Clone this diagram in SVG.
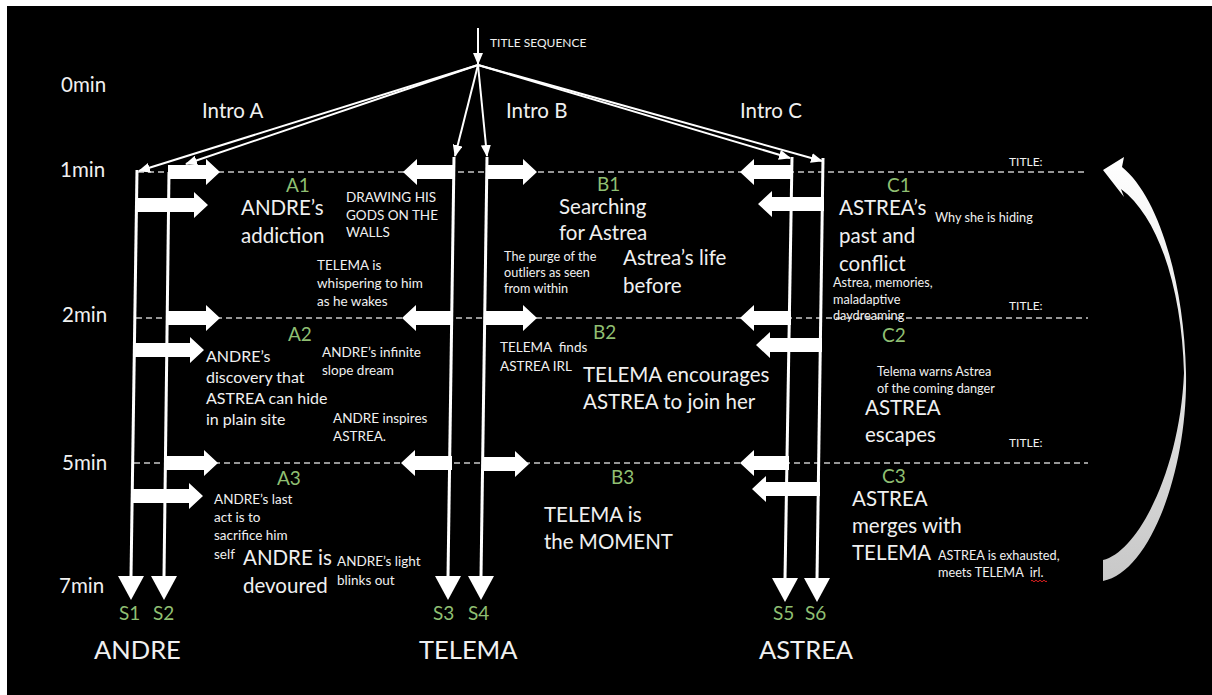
<svg xmlns="http://www.w3.org/2000/svg" width="1212" height="695" viewBox="0 0 1212 695">
<defs>
<style>
text{font-family:Lato,"Liberation Sans","DejaVu Sans",sans-serif;fill:#f0f0f0}
.t{font-size:20.5px}
.big{font-size:20.5px}
.mid{font-size:16px}
.sm{font-size:13.5px}
.xs{font-size:12.7px}
.lbl{font-size:12px}
.g{fill:#8fbf72;font-size:19px}
.nm{font-size:25.5px}
.lane{stroke:#fff;stroke-width:3;fill:none}
.blk{fill:#fff}
.grid{stroke:#c8c8c8;stroke-width:1.3;stroke-dasharray:6 4;fill:none}
.fan{stroke:#fff;stroke-width:2;fill:none;marker-end:url(#tip)}
.pre{white-space:pre}
</style>
<marker id="tip" markerUnits="userSpaceOnUse" viewBox="0 0 12 10" refX="11" refY="5" markerWidth="12" markerHeight="10" orient="auto">
<path d="M0,0 L12,5 L0,10 Z" fill="#fff"/>
</marker>
<linearGradient id="loopFill" x1="0" y1="0" x2="0" y2="1">
<stop offset="0" stop-color="#ffffff"/>
<stop offset="1" stop-color="#c8c8c8"/>
</linearGradient>
</defs>

<!-- slide frame -->
<rect x="0" y="0" width="1212" height="695" fill="#ffffff"/>
<rect x="7" y="6" width="1205" height="689" fill="#000000"/>

<!-- time axis -->
<g id="time-axis">
<text class="t" x="61" y="92">0min</text>
<text class="t" x="60" y="177">1min</text>
<text class="t" x="62" y="322">2min</text>
<text class="t" x="62" y="470">5min</text>
<text class="t" x="59" y="593">7min</text>
<line class="grid" x1="138" y1="172" x2="1088" y2="172"/>
<line class="grid" x1="136" y1="318" x2="1088" y2="318"/>
<line class="grid" x1="134" y1="463" x2="1088" y2="463"/>
<text class="lbl" x="1009" y="166">TITLE:</text>
<text class="lbl" x="1009" y="310">TITLE:</text>
<text class="lbl" x="1009" y="447">TITLE:</text>
</g>

<!-- title sequence and the intro fan-out -->
<g id="title-sequence">
<text class="lbl" x="490" y="47">TITLE SEQUENCE</text>
<text class="t" x="202" y="118">Intro A</text>
<text class="t" x="506" y="118">Intro B</text>
<text class="t" x="740" y="118">Intro C</text>
</g>

<g id="connectors">
<line class="fan" x1="478" y1="28" x2="478" y2="64"/>
<line class="fan" x1="478" y1="65" x2="139" y2="171"/>
<line class="fan" x1="478" y1="65" x2="186" y2="164"/>
<line class="fan" x1="478" y1="65" x2="455" y2="156"/>
<line class="fan" x1="478" y1="65" x2="487" y2="156"/>
<line class="fan" x1="478" y1="65" x2="790" y2="158"/>
<line class="fan" x1="478" y1="65" x2="822" y2="161"/>
</g>

<!-- ANDRE storylines S1 / S2 -->
<g id="andre">
<line class="lane" x1="137" y1="170" x2="131" y2="577"/>
<polygon class="blk" points="118,576 144,576 131,600"/>
<line class="lane" x1="169" y1="172" x2="164" y2="577"/>
<polygon class="blk" points="151,576 177,576 164,600"/>
<polygon class="blk" points="168,165 206,165 206,159 220,172 206,185 206,179 168,179"/>
<polygon class="blk" points="136,198 194,198 194,192 208,205 194,218 194,212 136,212"/>
<polygon class="blk" points="167,311 206,311 206,305 220,318 206,331 206,325 167,325"/>
<polygon class="blk" points="134,343 190,343 190,337 204,350 190,363 190,357 134,357"/>
<polygon class="blk" points="166,456 204,456 204,450 218,463 204,476 204,470 166,470"/>
<polygon class="blk" points="132,489 189,489 189,483 203,496 189,509 189,503 132,503"/>
<text class="g" x="119" y="620">S1</text>
<text class="g" x="153" y="620">S2</text>
<text class="nm" x="94" y="659">ANDRE</text>
</g>

<!-- TELEMA storylines S3 / S4 -->
<g id="telema">
<line class="lane" x1="454" y1="157" x2="448" y2="577"/>
<polygon class="blk" points="435,576 461,576 448,600"/>
<line class="lane" x1="487" y1="157" x2="481" y2="577"/>
<polygon class="blk" points="468,576 494,576 481,600"/>
<polygon class="blk" points="455,165 417,165 417,159 403,172 417,185 417,179 455,179"/>
<polygon class="blk" points="486,165 523,165 523,159 537,172 523,185 523,179 486,179"/>
<polygon class="blk" points="453,311 416,311 416,305 402,318 416,331 416,325 453,325"/>
<polygon class="blk" points="484,311 523,311 523,305 537,318 523,331 523,325 484,325"/>
<polygon class="blk" points="452,456 415,456 415,450 401,463 415,476 415,470 452,470"/>
<polygon class="blk" points="482,457 515,457 515,451 529,464 515,477 515,471 482,471"/>
<text class="g" x="433" y="620">S3</text>
<text class="g" x="468" y="620">S4</text>
<text class="nm" x="419" y="659">TELEMA</text>
</g>

<!-- ASTREA storylines S5 / S6 -->
<g id="astrea">
<line class="lane" x1="792" y1="157" x2="785" y2="579"/>
<polygon class="blk" points="772,578 798,578 785,602"/>
<line class="lane" x1="823" y1="158" x2="817" y2="579"/>
<polygon class="blk" points="804,578 830,578 817,602"/>
<polygon class="blk" points="793,165 754,165 754,159 740,172 754,185 754,179 793,179"/>
<polygon class="blk" points="824,197 772,197 772,191 758,204 772,217 772,211 824,211"/>
<polygon class="blk" points="791,311 754,311 754,305 740,318 754,331 754,325 791,325"/>
<polygon class="blk" points="822,338 770,338 770,332 756,345 770,358 770,352 822,352"/>
<polygon class="blk" points="789,456 754,456 754,450 740,463 754,476 754,470 789,470"/>
<polygon class="blk" points="820,482 766,482 766,476 752,489 766,502 766,496 820,496"/>
<text class="g" x="773" y="620">S5</text>
<text class="g" x="805" y="620">S6</text>
<text class="nm" x="759" y="659">ASTREA</text>
</g>

<!-- scenes -->
<g id="scene-a1">
<text class="g" x="286" y="192">A1</text>
<text class="big"><tspan x="241" y="215">ANDRE’s</tspan><tspan x="241" y="243">addiction</tspan></text>
<text class="sm"><tspan x="346" y="202">DRAWING HIS</tspan><tspan x="346" y="220">GODS ON THE</tspan><tspan x="346" y="237">WALLS</tspan></text>
<text class="sm"><tspan x="317" y="270">TELEMA is</tspan><tspan x="317" y="288">whispering to him</tspan><tspan x="317" y="306">as he wakes</tspan></text>
</g>

<g id="scene-a2">
<text class="g" x="288" y="341">A2</text>
<text class="mid"><tspan x="206" y="362">ANDRE’s</tspan><tspan x="206" y="383">discovery that</tspan><tspan x="206" y="404">ASTREA can hide</tspan><tspan x="206" y="425">in plain site</tspan></text>
<text class="sm"><tspan x="322" y="357">ANDRE’s infinite</tspan><tspan x="322" y="375">slope dream</tspan></text>
<text class="sm"><tspan x="333" y="423">ANDRE inspires</tspan><tspan x="333" y="441">ASTREA.</tspan></text>
</g>

<g id="scene-a3">
<text class="g" x="277" y="485">A3</text>
<text class="sm"><tspan x="214" y="504">ANDRE’s last</tspan><tspan x="214" y="522">act is to</tspan><tspan x="214" y="540">sacrifice him</tspan><tspan x="214" y="559">self</tspan></text>
<text class="big"><tspan x="243" y="565">ANDRE is</tspan><tspan x="243" y="593">devoured</tspan></text>
<text class="sm"><tspan x="337" y="566">ANDRE’s light</tspan><tspan x="337" y="585">blinks out</tspan></text>
</g>

<g id="scene-b1">
<text class="g" x="597" y="191">B1</text>
<text class="big"><tspan x="559" y="214">Searching</tspan><tspan x="559" y="240">for Astrea</tspan></text>
<text class="big"><tspan x="623" y="265">Astrea’s life</tspan><tspan x="623" y="293">before</tspan></text>
<text class="xs"><tspan x="504" y="261">The purge of the</tspan><tspan x="504" y="277">outliers as seen</tspan><tspan x="504" y="293">from within</tspan></text>
</g>

<g id="scene-b2">
<text class="g" x="593" y="339">B2</text>
<text class="sm pre"><tspan x="500" y="352">TELEMA  finds</tspan><tspan x="500" y="371">ASTREA IRL</tspan></text>
<text class="big"><tspan x="583" y="382">TELEMA encourages</tspan><tspan x="583" y="409">ASTREA to join her</tspan></text>
</g>

<g id="scene-b3">
<text class="g" x="611" y="484">B3</text>
<text class="big"><tspan x="544" y="522">TELEMA is</tspan><tspan x="544" y="549">the MOMENT</tspan></text>
</g>

<g id="scene-c1">
<text class="g" x="887" y="192">C1</text>
<text class="big"><tspan x="839" y="215">ASTREA’s</tspan><tspan x="839" y="243">past and</tspan><tspan x="839" y="271">conflict</tspan></text>
<text class="xs" x="935" y="222">Why she is hiding</text>
<text class="xs"><tspan x="833" y="287">Astrea, memories,</tspan><tspan x="833" y="304">maladaptive</tspan><tspan x="833" y="320">daydreaming</tspan></text>
</g>

<g id="scene-c2">
<text class="g" x="882" y="342">C2</text>
<text class="xs"><tspan x="877" y="376">Telema warns Astrea</tspan><tspan x="877" y="393">of the coming danger</tspan></text>
<text class="big"><tspan x="865" y="415">ASTREA</tspan><tspan x="865" y="442">escapes</tspan></text>
</g>

<g id="scene-c3">
<text class="g" x="882" y="483">C3</text>
<text class="big"><tspan x="852" y="506">ASTREA</tspan><tspan x="852" y="533">merges with</tspan><tspan x="852" y="560">TELEMA</tspan></text>
<text class="xs pre"><tspan x="938" y="560">ASTREA is exhausted,</tspan><tspan x="938" y="577">meets TELEMA  irl.</tspan></text>
<path d="M1031,581 q1,-1.5 2,0 t2,0 t2,0 t2,0 t2,0 t2,0 t2,0 t2,0" fill="none" stroke="#e02020" stroke-width="1"/>
</g>

<!-- loop back arrow -->
<g id="loop">
<path d="M1103,170 L1124,157 L1122,167 C1158,196 1184,280 1186,373 C1188,470 1150,572 1103,581 L1103,560 C1138,552 1180,470 1184,373 C1182,292 1160,218 1121,189 L1124,197 Z" fill="url(#loopFill)"/>
</g>
</svg>
